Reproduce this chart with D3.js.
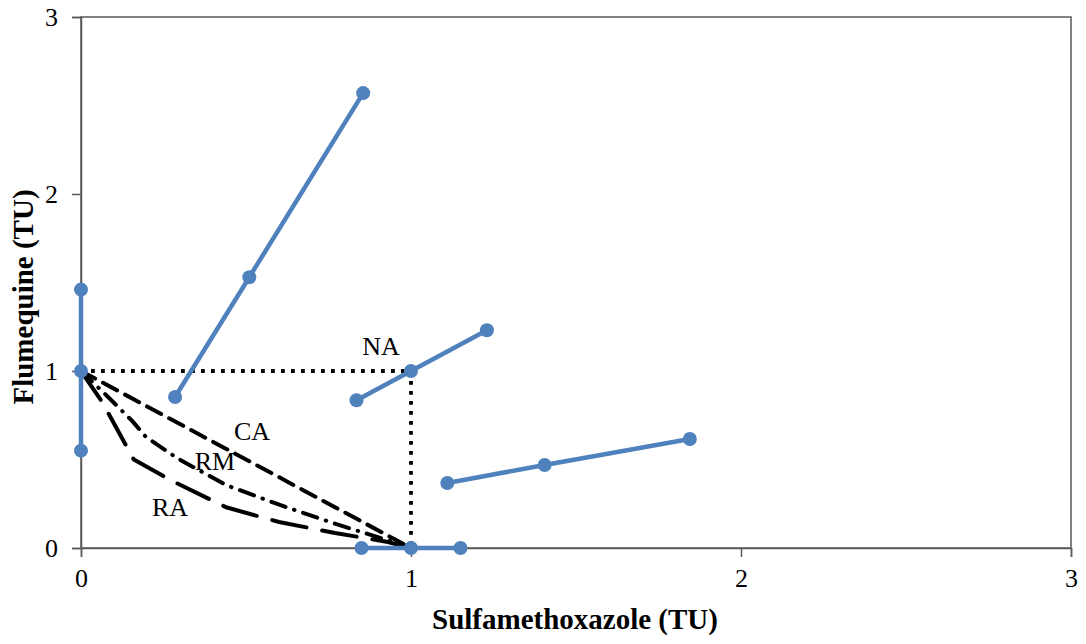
<!DOCTYPE html>
<html>
<head>
<meta charset="utf-8">
<script src="https://cdn.jsdelivr.net/npm/d3@7"></script>
<style>
  body { margin: 0; background: #fff; }
  text { font-family: "Liberation Serif", "Times New Roman", serif; }
</style>
</head>
<body>
<svg id="chart" width="1086" height="644"></svg>
<script>
// measured mixtures (blue series), each array is one ray
const rayA = [[0, 1.46], [0, 1.0], [0, 0.55]];
const rayB = [[0.285, 0.853], [0.51, 1.53], [0.855, 2.57]];
const rayC = [[0.835, 0.835], [1.0, 1.0], [1.23, 1.23]];
const rayD = [[1.11, 0.367], [1.405, 0.469], [1.845, 0.616]];
const rayE = [[0.85, 0], [1.0, 0], [1.15, 0]];
const rays = [rayA, rayB, rayC, rayD, rayE];

// reference isoboles
const naLine = [[0, 1], [1, 1], [1, 0]];
const caLine = [[0, 1], [1, 0]];
const rmLine = [[0, 1], [0.079, 0.859], [0.155, 0.718], [0.197, 0.627], [0.291, 0.508],
  [0.439, 0.356], [0.603, 0.243], [0.764, 0.141], [0.927, 0.045], [1, 0]];
const raLine = [[0, 1], [0.064, 0.825], [0.16, 0.5], [0.27, 0.385], [0.44, 0.23],
  [0.6, 0.147], [0.77, 0.085], [0.93, 0.034], [1, 0]];

const lineLabels = [
  { text: "NA", x: 0.909, y: 1.09 },
  { text: "CA", x: 0.518, y: 0.61 },
  { text: "RM", x: 0.406, y: 0.44 },
  { text: "RA", x: 0.27, y: 0.18 }
];

const xTicks = [0, 1, 2, 3];
const yTicks = [0, 1, 2, 3];

const svg = d3.select("#chart"),
  margin = { top: 17, right: 15, bottom: 96, left: 81 },
  width = +svg.attr("width") - margin.left - margin.right,
  height = +svg.attr("height") - margin.top - margin.bottom;

const g = svg.append("g").attr("transform", `translate(${margin.left},${margin.top})`);

const x = d3.scaleLinear().domain([0, 3]).range([0, width]);
const y = d3.scaleLinear().domain([0, 3]).range([height, 0]);

// frame
g.append("rect")
  .attr("width", width)
  .attr("height", height)
  .attr("fill", "none")
  .attr("stroke", "#595959")
  .attr("stroke-width", 1.5);

const xAxis = g.append("g")
  .attr("transform", `translate(0,${height})`)
  .call(d3.axisBottom(x).tickValues(xTicks).tickFormat(d3.format("d")).tickSize(9).tickPadding(12));

const yAxis = g.append("g")
  .call(d3.axisLeft(y).tickValues(yTicks).tickFormat(d3.format("d")).tickSize(9).tickPadding(14));

[xAxis, yAxis].forEach((ax) => {
  ax.attr("font-family", null);
  ax.select(".domain").attr("stroke", "#595959").attr("stroke-width", 1.5);
  ax.selectAll(".tick line").attr("stroke", "#595959").attr("stroke-width", 1.5);
  ax.selectAll(".tick text")
    .attr("fill", "#000")
    .style("font-family", "'Liberation Serif', serif")
    .style("font-size", "26px");
});

const line = d3.line().x((d) => x(d[0])).y((d) => y(d[1]));

// isoboles
g.append("path").datum(naLine).attr("d", line)
  .attr("fill", "none").attr("stroke", "#000").attr("stroke-width", 3.8)
  .attr("stroke-dasharray", "3.8 6.2");

g.append("path").datum(caLine).attr("d", line)
  .attr("fill", "none").attr("stroke", "#000").attr("stroke-width", 4)
  .attr("stroke-linecap", "round")
  .attr("stroke-dasharray", "16 9");

g.append("path").datum(rmLine).attr("d", line)
  .attr("fill", "none").attr("stroke", "#000").attr("stroke-width", 4)
  .attr("stroke-linecap", "round")
  .attr("stroke-dasharray", "15 9 0.5 9");

g.append("path").datum(raLine).attr("d", line)
  .attr("fill", "none").attr("stroke", "#000").attr("stroke-width", 4)
  .attr("stroke-linecap", "round")
  .attr("stroke-dasharray", "35 16");

// measured rays
const blue = "#4F81BD";
rays.forEach((r) => {
  g.append("path").datum(r).attr("d", line)
    .attr("fill", "none").attr("stroke", blue).attr("stroke-width", 4.5);
  g.selectAll(null).data(r).enter().append("circle")
    .attr("cx", (d) => x(d[0]))
    .attr("cy", (d) => y(d[1]))
    .attr("r", 7)
    .attr("fill", blue);
});

g.selectAll(".lbl").data(lineLabels).enter().append("text")
  .attr("class", "lbl")
  .attr("x", (d) => x(d.x))
  .attr("y", (d) => y(d.y))
  .attr("text-anchor", "middle")
  .style("font-size", "26px")
  .text((d) => d.text);

// axis titles
svg.append("text")
  .attr("x", margin.left + width / 2 - 1)
  .attr("y", 629)
  .attr("text-anchor", "middle")
  .style("font-size", "29px")
  .style("font-weight", "bold")
  .text("Sulfamethoxazole (TU)");

svg.append("text")
  .attr("transform", "translate(33,297) rotate(-90)")
  .attr("text-anchor", "middle")
  .style("font-size", "29px")
  .style("font-weight", "bold")
  .text("Flumequine (TU)");
</script>
</body>
</html>
